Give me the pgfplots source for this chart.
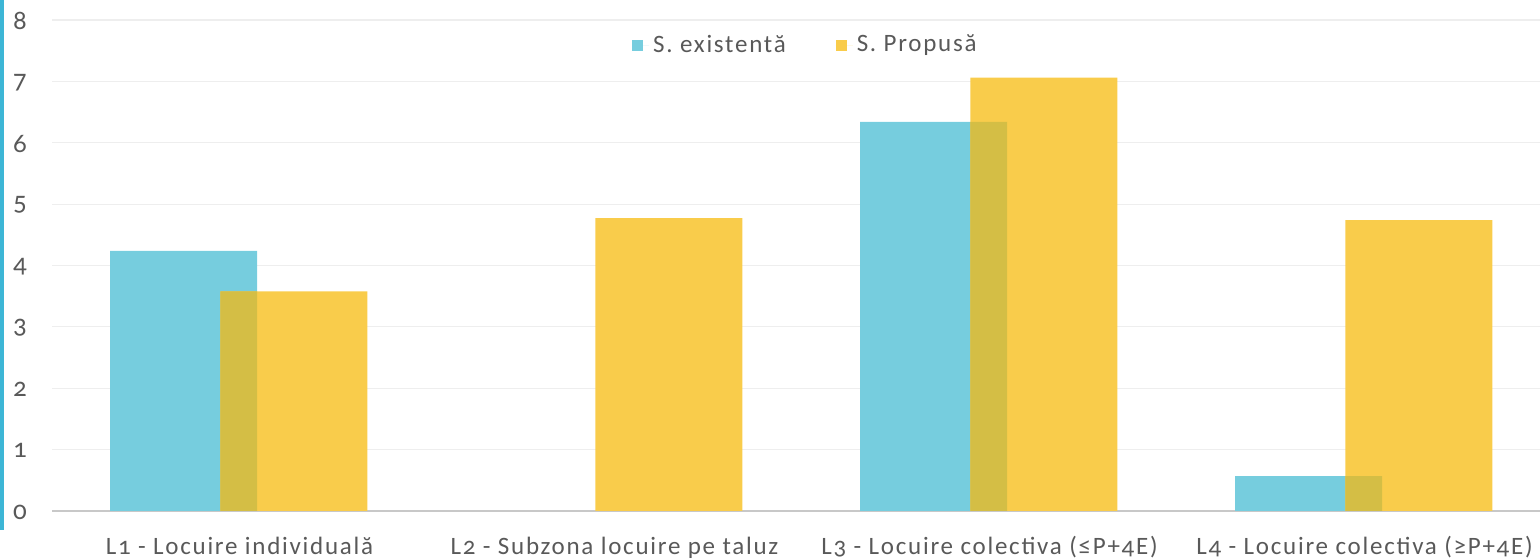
\documentclass[border=0pt]{standalone}
\usepackage{pgfplots}
\pgfplotsset{compat=1.18}
\usepackage{fontspec}
\setmainfont{Carlito}[Numbers=OldStyle, LetterSpace=7]
\definecolor{cyanbar}{HTML}{76CDDE}
\definecolor{yelbar}{HTML}{F9CC4B}
\definecolor{olivebar}{HTML}{D4BE45}
\definecolor{txt}{HTML}{595959}
\definecolor{gridc}{HTML}{EEEEEE}
\definecolor{basec}{HTML}{C8C8C8}
\definecolor{leftline}{HTML}{3DB6D6}
\begin{document}
\begin{tikzpicture}
\begin{axis}[
  at={(26pt,24.5pt)}, anchor=south west,
  scale only axis, width=744pt, height=245.5pt,
  xmin=-0.5, xmax=3.468, ymin=0, ymax=8,
  ytick={0,1,2,3,4,5,6,7,8},
  xtick={0,1,2,3},
  xticklabels={L1 - Locuire individuală, L2 - Subzona locuire pe taluz, L3 - Locuire colectiva (≤P+4E), L4 - Locuire colectiva (≥P+4E)},
  axis line style={draw=none},
  major tick length=0pt,
  ymajorgrids,
  grid style={gridc, line width=0.6pt},
  extra y ticks={0}, extra y tick labels={},
  extra y tick style={grid style={basec, line width=1.1pt}},
  ticklabel style={font=\fontsize{12.5}{14}\selectfont, text=txt},
  yticklabel style={font=\fontsize{13.5}{15}\selectfont},
  /pgf/number format/assume math mode=true,
  yticklabel style={anchor=center, xshift=-16pt, yshift=-0.5pt},
  xticklabel style={anchor=base, yshift=-22pt},
  legend style={at={(0.507,0.949)}, anchor=center, draw=none, fill=none,
    legend columns=2, font=\fontsize{12.5}{14}\selectfont, text=txt,
    /tikz/every even column/.append style={column sep=23pt}},
  legend image code/.code={\fill[#1,draw=none] (0pt,-2.75pt) rectangle (5.5pt,2.75pt);\path (0pt,0pt) -- (8.5pt,0pt);},
]
\addplot[ybar, bar width=0.392, bar shift=-0.149, fill=cyanbar, draw=none]
  coordinates {(0,4.24) (2,6.34) (3,0.57)};
\addlegendentry{S. existentă}
\addplot[ybar, bar width=0.392, bar shift=0.145, fill=yelbar, draw=none]
  coordinates {(0,3.58) (1,4.77) (2,7.06) (3,4.74)};
\addlegendentry{S. Propusă}
\addplot[ybar, bar width=0.098, bar shift=-0.002, fill=olivebar, draw=none, forget plot]
  coordinates {(0,3.58) (2,6.34) (3,0.57)};
\end{axis}
\fill[leftline] (0,15pt) rectangle (2pt,280pt);
\pgfresetboundingbox
\path[use as bounding box] (0,0) rectangle (770pt,280pt);
\end{tikzpicture}
\end{document}
